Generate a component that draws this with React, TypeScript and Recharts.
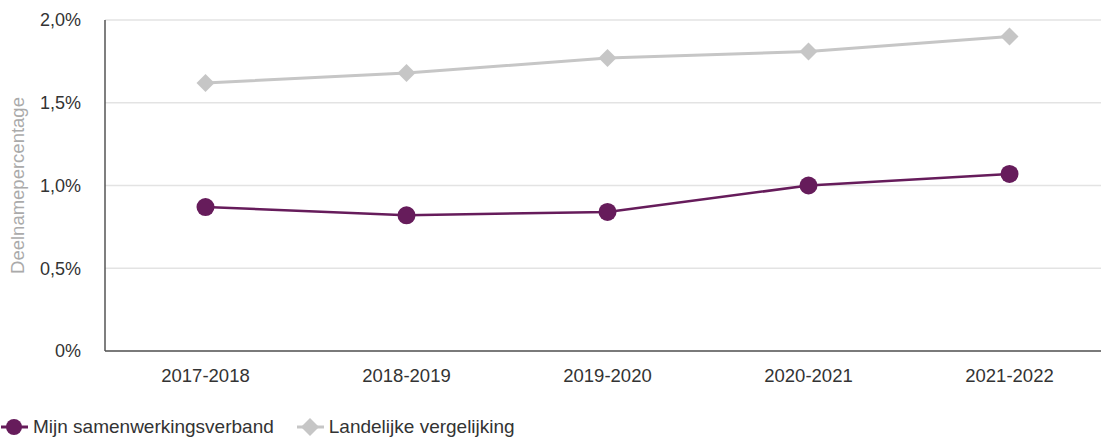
import React from 'react';
import { LineChart, Line, XAxis, YAxis, CartesianGrid } from 'recharts';

const years = ['2017-2018', '2018-2019', '2019-2020', '2020-2021', '2021-2022'];
const mijnValues = [0.87, 0.82, 0.84, 1.0, 1.07];
const landelijkValues = [1.62, 1.68, 1.77, 1.81, 1.9];
const yTicks = [0, 0.5, 1, 1.5, 2];

const PURPLE = '#661c5b';
const GREY = '#c6c6c6';
const FONT = '"Liberation Sans", Arial, sans-serif';

const data = years.map((year, i) => ({
  year,
  mijn: mijnValues[i],
  landelijk: landelijkValues[i],
}));

const formatPct = (v: number) => (v === 0 ? '0%' : `${v.toFixed(1).replace('.', ',')}%`);

const Diamond = (props: any) => {
  const { cx, cy } = props;
  if (cx == null || cy == null) return null;
  const r = 9;
  return <path d={`M${cx},${cy - r}L${cx + r},${cy}L${cx},${cy + r}L${cx - r},${cy}Z`} fill={GREY} />;
};

const Legend = () => (
  <div
    style={{
      position: 'absolute',
      left: 0,
      top: 415,
      display: 'flex',
      alignItems: 'center',
      fontFamily: FONT,
      fontSize: 19,
      color: '#333',
    }}
  >
    <svg width={30} height={24}>
      <line x1={1} y1={12} x2={28} y2={12} stroke={PURPLE} strokeWidth={3} />
      <circle cx={14} cy={12} r={8} fill={PURPLE} />
    </svg>
    <span style={{ marginLeft: 3 }}>Mijn samenwerkingsverband</span>
    <svg width={30} height={24} style={{ marginLeft: 22 }}>
      <line x1={1} y1={12} x2={28} y2={12} stroke={GREY} strokeWidth={3} />
      <path d="M14,3L23,12L14,21L5,12Z" fill={GREY} />
    </svg>
    <span style={{ marginLeft: 3 }}>Landelijke vergelijking</span>
  </div>
);

export default function App() {
  return (
    <div style={{ position: 'absolute', left: 0, top: 0, width: 1101, height: 439, overflow: 'hidden', background: '#fff' }}>
      <LineChart width={1110} height={400} data={data} margin={{ top: 20, right: 0, bottom: 0, left: 0 }}>
        <CartesianGrid vertical={false} stroke="#e3e3e3" strokeWidth={1.5} />
        <XAxis
          dataKey="year"
          padding={{ left: 100.5, right: 100.5 }}
          height={49}
          tickLine={false}
          tickMargin={12}
          axisLine={{ stroke: '#555', strokeWidth: 1.5 }}
          tick={{ fill: '#333', fontSize: 18.5, fontFamily: FONT }}
        />
        <YAxis
          width={105}
          domain={[0, 2]}
          ticks={yTicks}
          tickFormatter={formatPct}
          tickLine={false}
          tickMargin={18}
          axisLine={{ stroke: '#555', strokeWidth: 1.5 }}
          tick={{ fill: '#333', fontSize: 18, fontFamily: FONT }}
          label={{
            value: 'Deelnamepercentage',
            angle: -90,
            position: 'insideLeft',
            offset: 17,
            style: { fill: '#aaa', fontSize: 18.5, fontFamily: FONT, textAnchor: 'middle' },
          }}
        />
        <Line
          dataKey="landelijk"
          stroke={GREY}
          strokeWidth={3}
          dot={<Diamond />}
          activeDot={false}
          isAnimationActive={false}
        />
        <Line
          dataKey="mijn"
          stroke={PURPLE}
          strokeWidth={2.5}
          dot={{ r: 9, fill: PURPLE, stroke: PURPLE, strokeWidth: 0 }}
          activeDot={false}
          isAnimationActive={false}
        />
      </LineChart>
      <Legend />
    </div>
  );
}
